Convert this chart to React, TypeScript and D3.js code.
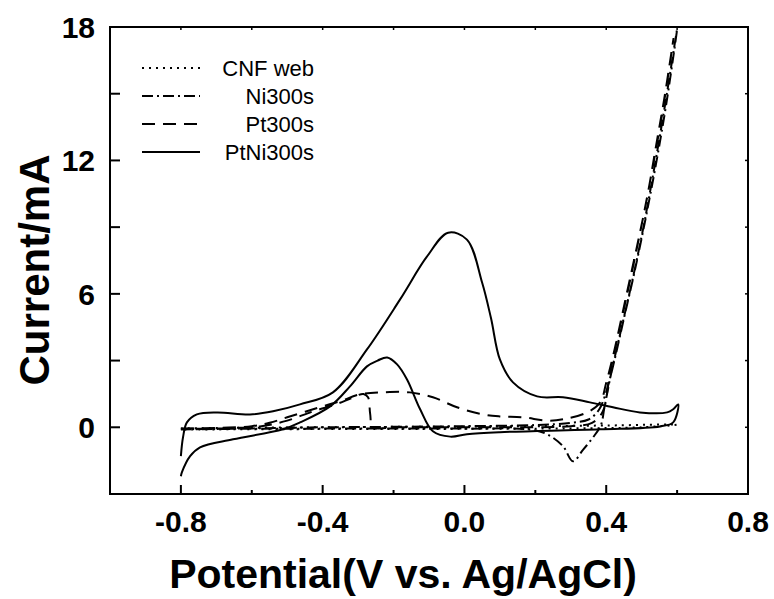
import React from 'react';
import * as d3 from 'd3';

const width = 774;
const height = 599;
const margin = { top: 27, right: 26, bottom: 105, left: 110 };
const font = 'Liberation Sans, Arial, sans-serif';

// x = potential (V vs. Ag/AgCl), y = current (mA)
const potentialTicks = [-0.8, -0.4, 0.0, 0.4, 0.8];
const potentialMinor = [-1.0, -0.6, -0.2, 0.2, 0.6];
const currentTicks = [0, 6, 12, 18];
const currentMinor = [-3, 3, 9, 15];

const seriesNames = ['CNF web', 'Ni300s', 'Pt300s', 'PtNi300s'];
const seriesDash = ['2,5', '11,4,2,4', '13,8', 'none'];

// each CV loop: forward scan then reverse scan, [V, mA]
const cnfWeb: [number, number][] = [
  [-0.8, -0.05], [-0.6, -0.02], [-0.4, 0.0], [-0.2, 0.02], [0.0, 0.03], [0.2, 0.05], [0.4, 0.08], [0.6, 0.12],
  [0.5, 0.0], [0.3, -0.05], [0.0, -0.07], [-0.4, -0.08], [-0.8, -0.1],
];

const ni300s: [number, number][] = [
  [-0.8, -0.1], [-0.6, -0.05], [-0.4, 0.0], [-0.2, 0.02], [0.0, 0.05], [0.2, 0.1], [0.3, 0.2], [0.35, 0.35],
  [0.38, 0.8], [0.4, 1.6], [0.42, 2.8], [0.45, 4.9], [0.48, 7.0], [0.51, 9.3], [0.54, 11.8], [0.57, 14.6], [0.6, 17.9],
  [0.565, 14.4], [0.535, 11.6], [0.505, 9.0], [0.475, 6.7], [0.445, 4.6], [0.415, 2.5], [0.395, 0.9], [0.385, 0.1],
  [0.363, -0.45], [0.335, -1.0], [0.306, -1.53], [0.278, -0.85], [0.233, -0.31], [0.185, -0.1], [0.0, -0.06],
  [-0.4, -0.06], [-0.8, -0.08],
];

const pt300s: [number, number][] = [
  [-0.8, -0.05], [-0.7, -0.03], [-0.6, 0.05], [-0.55, 0.2], [-0.5, 0.45], [-0.427, 0.81], [-0.351, 1.17],
  [-0.295, 1.48], [-0.23, 1.57], [-0.154, 1.57], [-0.089, 1.35], [-0.021, 0.9], [0.052, 0.58], [0.1, 0.49],
  [0.165, 0.45], [0.233, 0.3], [0.278, 0.36], [0.346, 0.67], [0.383, 1.12], [0.4, 2.0], [0.425, 3.6], [0.455, 5.8],
  [0.485, 8.0], [0.515, 10.3], [0.54, 12.6], [0.565, 14.9], [0.59, 17.5],
  [0.56, 14.3], [0.53, 11.6], [0.5, 9.1], [0.47, 6.8], [0.44, 4.6], [0.41, 2.4], [0.39, 0.7], [0.36, 0.2],
  [0.3, 0.05], [0.1, 0.0], [-0.1, 0.0], [-0.2, 0.0], [-0.258, 0.0], [-0.266, 0.6], [-0.272, 1.35], [-0.285, 1.5],
  [-0.32, 1.3], [-0.36, 1.05], [-0.43, 0.7], [-0.5, 0.3], [-0.577, 0.04], [-0.7, -0.05], [-0.8, -0.08],
];

const ptNi300s: [number, number][] = [
  [-0.8, -1.3], [-0.794, -0.45], [-0.783, 0.22], [-0.755, 0.58], [-0.698, 0.67], [-0.605, 0.58], [-0.54, 0.72],
  [-0.464, 1.03], [-0.371, 1.57], [-0.275, 3.5], [-0.182, 5.74], [-0.106, 7.67], [-0.046, 8.75], [0.007, 8.44],
  [0.05, 6.5], [0.075, 4.9], [0.1, 3.05], [0.137, 2.02], [0.205, 1.39], [0.278, 1.35], [0.354, 1.12], [0.419, 0.9],
  [0.495, 0.67], [0.572, 0.67], [0.589, 0.81], [0.603, 1.03],
  [0.589, 0.22], [0.552, 0.04], [0.383, -0.09], [0.1, -0.22], [0.007, -0.31], [-0.04, -0.42], [-0.089, -0.18],
  [-0.125, 0.81], [-0.162, 2.15], [-0.19, 2.83], [-0.218, 3.14], [-0.245, 3.0], [-0.275, 2.74], [-0.323, 1.84],
  [-0.379, 0.94], [-0.464, 0.22], [-0.512, -0.09], [-0.653, -0.54], [-0.746, -0.9], [-0.774, -1.3],
  [-0.797, -2.02], [-0.8, -2.2],
];

const seriesData = [cnfWeb, ni300s, pt300s, ptNi300s];

export default function App() {
  const x = d3.scaleLinear().domain([-1.0, 0.8]).range([margin.left, width - margin.right]);
  const y = d3.scaleLinear().domain([-3, 18]).range([height - margin.bottom, margin.top]);
  const line = d3
    .line<[number, number]>()
    .x((d) => x(d[0]))
    .y((d) => y(d[1]))
    .curve(d3.curveCatmullRom.alpha(0.5));

  const [x0, x1] = x.range();
  const [y0, y1] = y.range();

  return (
    <svg
      width={width}
      height={height}
      style={{ position: 'absolute', left: 0, top: 0, background: '#fff' }}
      fontFamily={font}
    >
      <defs>
        <clipPath id="plot">
          <rect x={x0} y={y1} width={x1 - x0} height={y0 - y1} />
        </clipPath>
      </defs>

      {/* curves */}
      <g clipPath="url(#plot)" fill="none" stroke="#000" strokeWidth={2}>
        {seriesData.map((d, i) => (
          <path key={seriesNames[i]} d={line(d) || ''} strokeDasharray={seriesDash[i]} />
        ))}
      </g>

      {/* frame */}
      <rect x={x0} y={y1} width={x1 - x0} height={y0 - y1} fill="none" stroke="#000" strokeWidth={2} />

      {/* x ticks, inward, mirrored on top */}
      {potentialTicks.map((t) => (
        <g key={'xt' + t}>
          <line x1={x(t)} x2={x(t)} y1={y0} y2={y0 - 9} stroke="#000" strokeWidth={2} />
          <line x1={x(t)} x2={x(t)} y1={y1} y2={y1 + 3} stroke="#000" strokeWidth={1.5} />
          <text x={x(t)} y={532} textAnchor="middle" fontSize={30} fontWeight="bold">
            {t.toFixed(1)}
          </text>
        </g>
      ))}
      {potentialMinor.map((t) => (
        <g key={'xm' + t}>
          <line x1={x(t)} x2={x(t)} y1={y0} y2={y0 - 4} stroke="#000" strokeWidth={2} />
          <line x1={x(t)} x2={x(t)} y1={y1} y2={y1 + 3} stroke="#000" strokeWidth={1.5} />
        </g>
      ))}

      {/* y ticks, inward, mirrored on right */}
      {currentTicks.map((t) => (
        <g key={'yt' + t}>
          <line x1={x0} x2={x0 + 10} y1={y(t)} y2={y(t)} stroke="#000" strokeWidth={2} />
          <line x1={x1} x2={x1 - 3} y1={y(t)} y2={y(t)} stroke="#000" strokeWidth={1.5} />
          <text x={95} y={y(t) + 11} textAnchor="end" fontSize={30} fontWeight="bold">
            {t}
          </text>
        </g>
      ))}
      {currentMinor.map((t) => (
        <g key={'ym' + t}>
          <line x1={x0} x2={x0 + 10} y1={y(t)} y2={y(t)} stroke="#000" strokeWidth={2} />
          <line x1={x1} x2={x1 - 3} y1={y(t)} y2={y(t)} stroke="#000" strokeWidth={1.5} />
        </g>
      ))}

      {/* axis titles */}
      <text x={403} y={588} textAnchor="middle" fontSize={41} fontWeight="bold">
        Potential(V vs. Ag/AgCl)
      </text>
      <text
        transform={`translate(49, 270) rotate(-90)`}
        textAnchor="middle"
        fontSize={42}
        fontWeight="bold"
      >
        Current/mA
      </text>

      {/* legend */}
      {seriesNames.map((name, i) => {
        const ly = 68 + i * 28;
        return (
          <g key={'lg' + name}>
            <line x1={142} x2={200} y1={ly} y2={ly} stroke="#000" strokeWidth={2} strokeDasharray={seriesDash[i]} />
            <text x={314} y={ly + 8} textAnchor="end" fontSize={22}>
              {name}
            </text>
          </g>
        );
      })}
    </svg>
  );
}
